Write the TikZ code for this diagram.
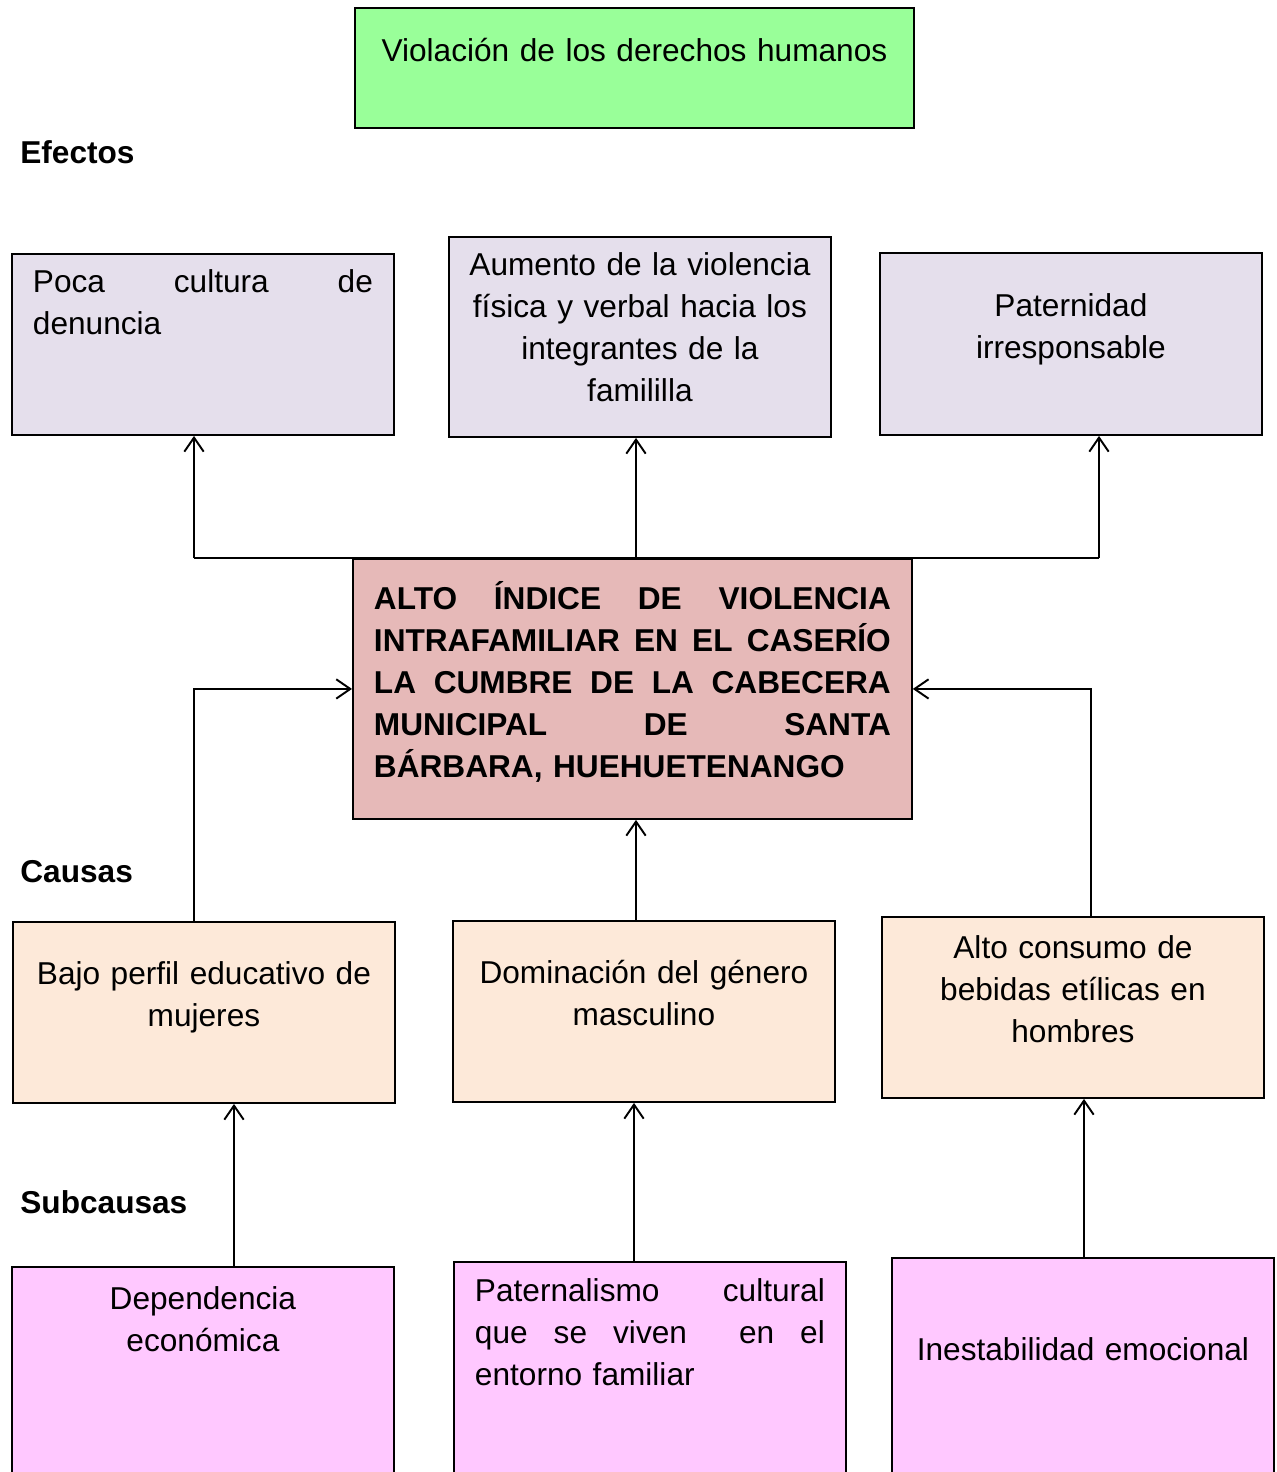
\documentclass[tikz,border=0pt]{standalone}
\usepackage{fontspec}
\setmainfont{Liberation Sans}
\usepackage{xcolor}
\usetikzlibrary{arrows.meta}
\definecolor{topgreen}{HTML}{99FF99}
\definecolor{efflila}{HTML}{E5DFEC}
\definecolor{probrose}{HTML}{E6B9B8}
\definecolor{causepeach}{HTML}{FDE9D9}
\definecolor{subpink}{HTML}{FFC8FF}
\newcommand{\boxfont}{\fontsize{18}{23.9}\selectfont}
\tikzset{box/.style={draw=black, line width=1.1pt, anchor=north west,
   inner xsep=0.42cm, inner ysep=0pt, text width=6.80cm},
 midbox/.style={box, align=center, inner xsep=0.1cm, text width=7.44cm},
 conn/.style={line width=1.1pt, -{Straight Barb[length=8pt,width=11pt]}},
 plain/.style={line width=1.1pt},
 heading/.style={anchor=base west, inner sep=0pt, font=\boxfont\bfseries},
 }

\begin{document}
\begin{tikzpicture}[x=0.02cm, y=-0.02cm, font=\boxfont]
        \clip (0,0) rectangle (1276,1472);

        \node[box, fill=topgreen, text width=10.34cm, align=center, text height=1.08cm, text depth=1.32cm] (top) at (354,7) {Violación de los derechos humanos};

        \node[heading] (efectos) at (20,163) {Efectos};
        \node[heading] (causas) at (20,882) {Causas};
        \node[heading] (subcausas) at (20,1213) {Subcausas};

        % efectos
        \node[box, fill=efflila, align=left, text height=0.78cm, text depth=2.84cm] (e1) at (11,253) {Poca\hfill cultura\hfill de\\denuncia};
        \node[midbox, fill=efflila, text height=0.78cm, text depth=3.22cm] (e2) at (448,236) {Aumento de la violencia\\física y verbal hacia los\\integrantes de la\\famililla};
        \node[midbox, fill=efflila, text height=1.28cm, text depth=2.36cm] (e3) at (879,252) {Paternidad\\irresponsable};

        % problema central
        \node[box, fill=probrose, text width=10.34cm, align=left, font=\boxfont\bfseries, text height=1.02cm, text depth=4.18cm] (main) at (352,558)
            {ALTO\hfill ÍNDICE\hfill DE\hfill VIOLENCIA\\
             INTRAFAMILIAR\hfill EN\hfill EL\hfill CASERÍO\\
             LA\hfill CUMBRE\hfill DE\hfill LA\hfill CABECERA\\
             MUNICIPAL\hfill DE\hfill SANTA\\
             BÁRBARA, HUEHUETENANGO};

        % causas
        \node[midbox, fill=causepeach, text height=1.26cm, text depth=2.36cm] (c1) at (12,921) {Bajo perfil educativo de\\mujeres};
        \node[midbox, fill=causepeach, text height=1.26cm, text depth=2.36cm] (c2) at (452,920) {Dominación del género\\masculino};
        \node[midbox, fill=causepeach, text height=0.84cm, text depth=2.78cm] (c3) at (881,916) {Alto consumo de\\bebidas etílicas en\\hombres};

        % subcausas
        \node[midbox, fill=subpink, text height=0.86cm, text depth=3.42cm] (s1) at (11,1266) {Dependencia\\económica};
        \node[box, fill=subpink, text width=7.00cm, align=left, text height=0.80cm, text depth=3.58cm] (s2) at (453,1261)
            {Paternalismo\hfill cultural\\que\hfill se\hfill viven\hfill\hfill en\hfill el\\entorno familiar};
        \node[midbox, fill=subpink, text height=2.06cm, text depth=2.40cm] (s3) at (891,1257) {Inestabilidad emocional};

        \coordinate (xl) at (194,0);
        \coordinate (xm) at (636,0);
        \coordinate (xr) at (1099,0);
        \coordinate (xcr) at (1091,0);
        \coordinate (xs1) at (234,0);
        \coordinate (xs2) at (634,0);
        \coordinate (xs3) at (1084,0);

        \draw[plain] (xl |- main.north) -- (xr |- main.north);
        \foreach \c/\e in {xl/e1, xm/e2, xr/e3} {
            \draw[conn] (\c |- main.north) -- (\c |- \e.south);
        }
        \draw[conn] (xl |- c1.north) |- (main.west);
        \draw[conn] (xm |- c2.north) -- (xm |- main.south);
        \draw[conn] (xcr |- c3.north) |- (main.east);
        \foreach \c/\s/\k in {xs1/s1/c1, xs2/s2/c2, xs3/s3/c3} {
            \draw[conn] (\c |- \s.north) -- (\c |- \k.south);
        }
    \end{tikzpicture}
\end{document}
